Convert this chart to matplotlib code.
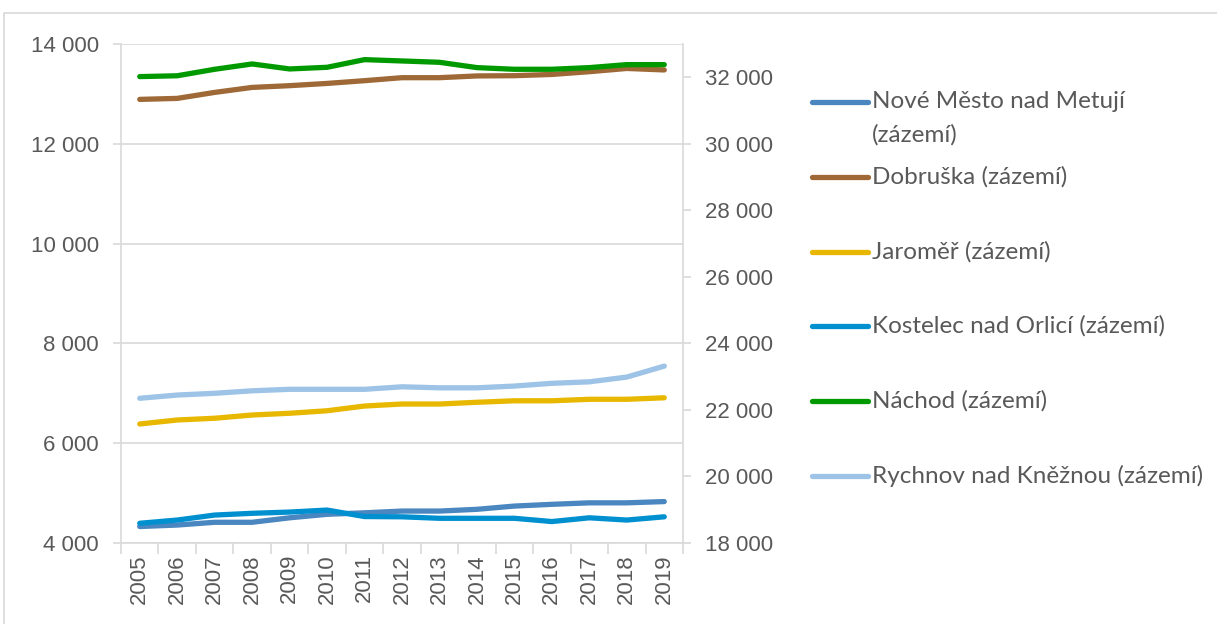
import matplotlib
matplotlib.use("Agg")
import matplotlib.pyplot as plt
import numpy as np
from matplotlib.lines import Line2D
from matplotlib.patches import Rectangle
from matplotlib.ticker import FuncFormatter, MultipleLocator

# data
years = [str(y) for y in range(2005, 2020)]
nove_mesto = [4330, 4360, 4415, 4415, 4505, 4575, 4605, 4640, 4640, 4675, 4740, 4775, 4805, 4805, 4830]
dobruska = [12890, 12910, 13030, 13130, 13165, 13210, 13265, 13325, 13325, 13360, 13365, 13390, 13445, 13510, 13480]
jaromer = [6385, 6465, 6500, 6565, 6600, 6650, 6745, 6785, 6785, 6820, 6850, 6850, 6880, 6880, 6910]
kostelec = [4395, 4460, 4560, 4595, 4620, 4660, 4530, 4525, 4495, 4495, 4495, 4430, 4505, 4460, 4525]
nachod = [32020, 32045, 32240, 32400, 32250, 32300, 32530, 32490, 32450, 32290, 32240, 32240, 32290, 32380, 32380]  # right axis
rychnov = [6900, 6965, 7000, 7050, 7080, 7080, 7080, 7130, 7110, 7110, 7145, 7200, 7230, 7325, 7545]

names = ["Nové Město nad Metují\n(zázemí)", "Dobruška (zázemí)", "Jaroměř (zázemí)",
         "Kostelec nad Orlicí (zázemí)", "Náchod (zázemí)", "Rychnov nad Kněžnou (zázemí)"]
colors = ["#4a86bf", "#9e6936", "#e8b800", "#0090d0", "#009a00", "#9dc3e6"]

grid_c = "#d9d9d9"
text_c = "#595959"
lw = 3.8
tick_fs = 16

fig = plt.figure(figsize=(12.17, 6.24), dpi=100)
ax = fig.add_axes([121 / 1217, 81 / 624, 562 / 1217, 499 / 624])
ax2 = ax.twinx()

left_series = [nove_mesto, dobruska, jaromer, kostelec, None, rychnov]
for vals, c in zip(left_series, colors):
    if vals is not None:
        ax.plot(years, vals, color=c, lw=lw, solid_capstyle="round")
ax2.plot(years, nachod, color=colors[4], lw=lw, solid_capstyle="round")

fmt = FuncFormatter(lambda v, _: f"{int(v):,}".replace(",", " "))

ax.set_xlim(-0.5, len(years) - 0.5)
ax.set_ylim(4000, 14000)
ax.yaxis.set_major_locator(MultipleLocator(2000))
ax.yaxis.set_major_formatter(fmt)
ax2.set_ylim(18000, 33000)
ax2.set_yticks(np.arange(18000, 32001, 2000))
ax2.yaxis.set_major_formatter(fmt)

ax.yaxis.grid(True, color=grid_c, lw=1.2)
ax.set_axisbelow(True)

for s in ["top", "right"]:
    ax.spines[s].set_visible(False)
for s in ["left", "bottom"]:
    ax.spines[s].set_color(grid_c)
    ax.spines[s].set_linewidth(1.2)
for s in ["top", "left", "bottom"]:
    ax2.spines[s].set_visible(False)
ax2.spines["right"].set_color(grid_c)
ax2.spines["right"].set_linewidth(1.2)

ax.tick_params(axis="x", which="major", length=0, labelsize=tick_fs, labelcolor=text_c, rotation=90, pad=8)
ax.set_xticks(np.arange(-0.5, len(years), 1), minor=True)
ax.tick_params(axis="x", which="minor", length=8, color=grid_c, width=1.2)
ax.tick_params(axis="y", length=6, color=grid_c, width=1.2, labelsize=tick_fs, labelcolor=text_c, pad=10)
ax2.tick_params(axis="y", length=6, color=grid_c, width=1.2, labelsize=tick_fs, labelcolor=text_c, pad=10)

for lab in ax.get_xticklabels() + ax.get_yticklabels() + ax2.get_yticklabels():
    lab.set_fontfamily("Liberation Sans")

# legend drawn by hand to keep Excel-like spacing
row_y = [102, 177, 252, 326, 401, 476]
for name, c, y in zip(names, colors, row_y):
    fy = 1 - y / 624
    fig.add_artist(Line2D([812 / 1217, 868 / 1217], [fy, fy], transform=fig.transFigure,
                          color=c, lw=lw, solid_capstyle="round"))
    for k, part in enumerate(name.split("\n")):
        fig.text(872 / 1217, 1 - (y + 33 * k) / 624, part, fontsize=17.5, color=text_c,
                 family="Lato", va="center")

# outer chart border
fig.add_artist(Rectangle((4 / 1217, -0.1), 1.2, 1.1 - 13 / 624, transform=fig.transFigure,
                         fill=False, ec=grid_c, lw=1.2))

fig.savefig("out.png", dpi=100)
